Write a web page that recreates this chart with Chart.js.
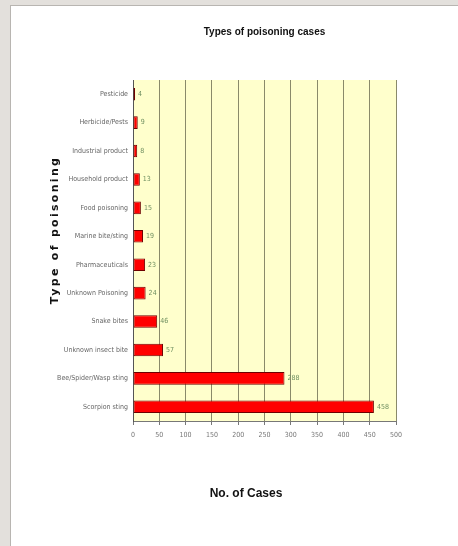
<!DOCTYPE html>
<html>
<head>
<meta charset="utf-8">
<script src="https://cdn.jsdelivr.net/npm/chart.js@4"></script>
<style>
  html, body { margin: 0; padding: 0; }
  body { width: 458px; height: 546px; background: #e3e0dc; position: relative; overflow: hidden; }
  #panel { position: absolute; left: 10px; top: 5px; width: 470px; height: 560px; background: #fff; border: 1px solid #b8b5b1; }
  #wrap { position: absolute; left: 0; top: 0; width: 458px; height: 546px; }
</style>
</head>
<body>
<div id="panel"></div>
<div id="wrap"><canvas id="poisonChart" width="458" height="546"></canvas></div>
<script>
// ----------------- Data -----------------
const categories = [
  "Pesticide",
  "Herbicide/Pests",
  "Industrial product",
  "Household product",
  "Food poisoning",
  "Marine bite/sting",
  "Pharmaceuticals",
  "Unknown Poisoning",
  "Snake bites",
  "Unknown insect bite",
  "Bee/Spider/Wasp sting",
  "Scorpion sting"
];
const caseCounts = [4, 9, 8, 13, 15, 19, 23, 24, 46, 57, 288, 458];
const xTicks = [0, 50, 100, 150, 200, 250, 300, 350, 400, 450, 500];
const xTitle = "No. of Cases";
const yTitle = "Type of poisoning";

const narrow = "'Liberation Sans Narrow', 'Arial Narrow', 'DejaVu Sans Condensed', sans-serif";

// ----------------- Plugins -----------------
const plotBackground = {
  id: "plotBackground",
  beforeDraw(chart) {
    const { ctx, chartArea: a } = chart;
    ctx.save();
    ctx.fillStyle = "#ffffcc";
    ctx.fillRect(a.left, a.top, a.right - a.left, a.bottom - a.top);
    ctx.restore();
  }
};

const valueLabels = {
  id: "valueLabels",
  afterDatasetsDraw(chart) {
    const { ctx } = chart;
    const meta = chart.getDatasetMeta(0);
    ctx.save();
    ctx.font = "7px " + narrow;
    ctx.fillStyle = "#6f8f60";
    ctx.textBaseline = "middle";
    meta.data.forEach((bar, i) => {
      ctx.fillText(String(caseCounts[i]), bar.x + 3, bar.y);
    });
    ctx.restore();
  }
};

// axis titles drawn by hand so they sit where the original has them
const axisTitles = {
  id: "axisTitles",
  afterDraw(chart) {
    const { ctx } = chart;
    ctx.save();
    ctx.fillStyle = "#111";
    ctx.textAlign = "center";
    ctx.textBaseline = "middle";

    ctx.font = "bold 12px 'Liberation Sans', Arial, sans-serif";
    ctx.fillText(xTitle, 246, 494);

    ctx.translate(55, 230);
    ctx.rotate(-Math.PI / 2);
    ctx.font = "bold 11px 'DejaVu Sans', sans-serif";
    ctx.letterSpacing = "2.3px";
    ctx.fillText(yTitle, 0, 0);
    ctx.restore();
  }
};

// ----------------- Chart -----------------
new Chart(document.getElementById("poisonChart"), {
  type: "bar",
  data: {
    labels: categories,
    datasets: [{
      data: caseCounts,
      backgroundColor: "#ff0000",
      borderColor: "#6e0000",
      borderWidth: 1,
      borderSkipped: false,
      categoryPercentage: 1,
      barPercentage: 0.44
    }]
  },
  options: {
    indexAxis: "y",
    responsive: false,
    animation: false,
    layout: { padding: { left: 46, right: 62, top: 0, bottom: 0 } },
    plugins: {
      legend: { display: false },
      tooltip: { enabled: false },
      title: {
        display: true,
        fullSize: false,
        text: "Types of poisoning cases",
        color: "#111",
        font: { family: "'Liberation Sans', Arial, sans-serif", size: 10, weight: "bold" },
        padding: { top: 26, bottom: 42 }
      }
    },
    scales: {
      x: {
        min: 0,
        max: 500,
        afterBuildTicks: s => { s.ticks = xTicks.map(v => ({ value: v })); },
        afterFit: s => { s.height = 125; },
        grid: {
          color: "#8a8a6a",
          lineWidth: 1,
          drawTicks: true,
          tickLength: 4,
          tickColor: "#777"
        },
        border: { color: "#777", width: 1 },
        ticks: {
          color: "#777",
          font: { family: narrow, size: 7 },
          padding: 6,
          maxRotation: 0
        }
      },
      y: {
        afterFit: s => { s.width = 133 - 46; },
        grid: { display: false, drawTicks: false },
        border: { color: "#555", width: 1 },
        ticks: {
          color: "#666",
          font: { family: narrow, size: 7 },
          padding: 5
        }
      }
    }
  },
  plugins: [plotBackground, valueLabels, axisTitles]
});
</script>
</body>
</html>
